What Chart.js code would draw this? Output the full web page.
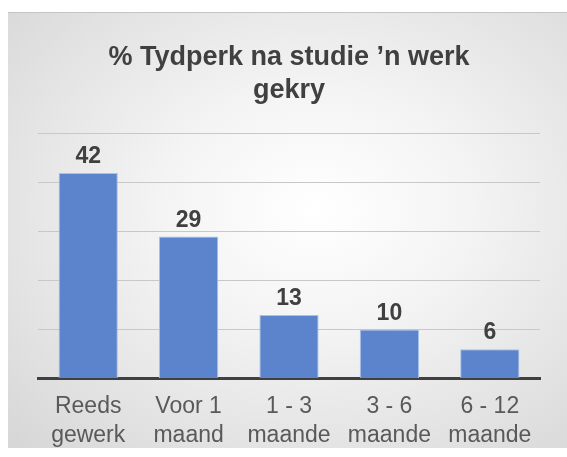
<meta charset="utf8"/>
<style>
body{margin:0;background:#fff;}
#box{position:absolute;left:8px;top:12px;width:559px;height:435px;border-top:1px solid #c4c4c4;
background:radial-gradient(ellipse at 55% 45%, #ffffff 0%, #f4f4f4 35%, #d6d6d6 100%);}
#c{position:absolute;left:0;top:0;}
</style>
<div id="box"><canvas id="c" width="559" height="451"></canvas></div>
<script src="https://cdn.jsdelivr.net/npm/chart.js"></script>
<script>
const categories = [['Reeds','gewerk'], ['Voor 1','maand'], ['1 - 3','maande'], ['3 - 6','maande'], ['6 - 12','maande']];
const values = [42, 29, 13, 10, 6];
const titleText = ['% Tydperk na studie ’n werk', 'gekry'];

// draws the number above each bar
const barLabels = {
	id: 'barLabels',
	afterDatasetsDraw(chart) {
		const ctx = chart.ctx;
		ctx.save();
		ctx.font = 'bold 23px "Liberation Sans", Arial, sans-serif';
		ctx.fillStyle = '#404040';
		ctx.textAlign = 'center';
		ctx.textBaseline = 'alphabetic';
		chart.getDatasetMeta(0).data.forEach((bar, i) => {
			ctx.fillText(values[i], bar.x, bar.y - 10);
		});
		ctx.restore();
	}
};

new Chart(document.getElementById('c'), {
	type: 'bar',
	data: {
		labels: categories,
		datasets: [{
			data: values,
			backgroundColor: '#5b84cc',
			borderColor: '#a8c0ea',
			borderWidth: 1,
			barPercentage: 0.59,
			categoryPercentage: 1,
		}]
	},
	options: {
		responsive: false,
		animation: false,
		layout: {padding: {left: 30, right: 27, bottom: 0}},
		scales: {
			x: {
				grid: {display: false, drawTicks: false},
				border: {color: '#404040', width: 3},
				ticks: {
					color: '#595959',
					padding: 14,
					maxRotation: 0,
					font: {family: '"Liberation Sans", Arial, sans-serif', size: 23, lineHeight: 1.25}
				}
			},
			y: {
				min: 0,
				max: 50,
				ticks: {display: false, stepSize: 10},
				border: {display: false},
				grid: {color: '#c8c8c8', lineWidth: 1, drawTicks: false}
			}
		},
		plugins: {
			legend: {display: false},
			tooltip: {enabled: false},
			title: {
				display: true,
				text: titleText,
				color: '#404040',
				padding: {top: 28, bottom: 27},
				font: {family: '"Liberation Sans", Arial, sans-serif', size: 27, weight: 'bold', lineHeight: 1.22}
			}
		}
	},
	plugins: [barLabels]
});
</script>
